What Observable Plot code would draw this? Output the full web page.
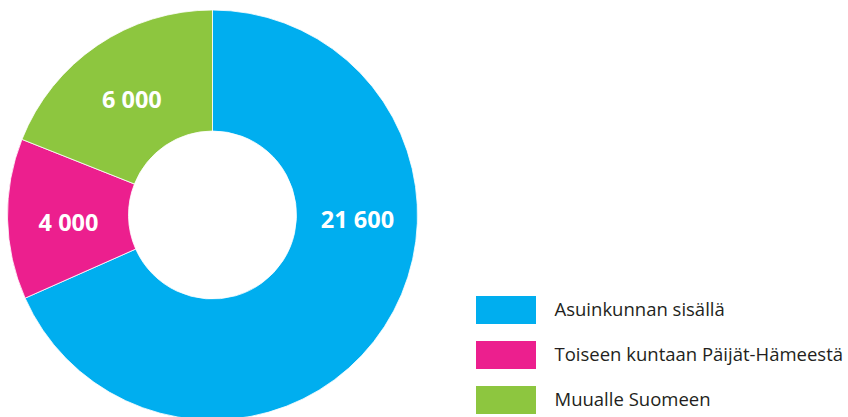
<!DOCTYPE html>
<html><head><meta charset="utf-8">
<script src="https://cdn.jsdelivr.net/npm/d3@7"></script>
<script src="https://cdn.jsdelivr.net/npm/@observablehq/plot@0.6"></script>
<style>body{margin:0;background:#fff}</style>
</head><body><div id="chart"></div>
<script>
const categories = ["Asuinkunnan sisällä", "Toiseen kuntaan Päijät-Hämeestä", "Muualle Suomeen"];
const values = [21600, 4000, 6000];
const valueLabels = ["21 600", "4 000", "6 000"];
const colors = ["#00AEEF", "#EC1F8E", "#8DC63F"];

const W = 848, H = 417;
const cx = 212.5, cy = 215, R = 205, r = 84;
const legX = 476, legTop = 296, legStep = 45, legW = 60, legH = 28, legTextX = 554;

const data = categories.map((c, i) => ({category: c, value: values[i], label: valueLabels[i], i}));
const arcs = d3.pie().sort(null).value(d => d.value)(data);
const arcGen = d3.arc().innerRadius(r).outerRadius(R);
const labelR = (R + r) / 2;
const labels = arcs.map((a, k) => {
  const ang = k === 0 ? Math.PI / 2 : (a.startAngle + a.endAngle) / 2;
  return {...a.data, lx: cx + labelR * Math.sin(ang), ly: cy - labelR * Math.cos(ang)};
});

function donut(index, scales) {
  const g = d3.create("svg:g");
  g.selectAll("path").data(arcs).join("path")
    .attr("transform", `translate(${scales.x(cx)},${scales.y(cy)})`)
    .attr("d", arcGen)
    .attr("fill", d => scales.color(d.data.category))
    .attr("stroke", "#fff").attr("stroke-width", 0.8);
  return g.node();
}

const chart = Plot.plot({
  width: W, height: H, margin: 0,
  style: {fontFamily: "'Open Sans', sans-serif", background: "#fff"},
  x: {domain: [0, W], range: [0, W], axis: null},
  y: {domain: [0, H], range: [0, H], axis: null},
  color: {domain: categories, range: colors},
  marks: [
    donut,
    Plot.text(labels, {x: "lx", y: "ly", dy: 5, text: "label", fill: "#fff", fontWeight: "bold", fontSize: 23.5, textAnchor: "middle"}),
    Plot.rect(data, {x1: () => legX, x2: () => legX + legW, y1: d => legTop + d.i * legStep, y2: d => legTop + d.i * legStep + legH, fill: "category"}),
    Plot.text(data, {x: () => legTextX, y: d => legTop + d.i * legStep + legH / 2, text: "category", textAnchor: "start", fontSize: 18.5, fill: "#231F20"})
  ]
});
document.getElementById("chart").append(chart);
</script></body></html>
